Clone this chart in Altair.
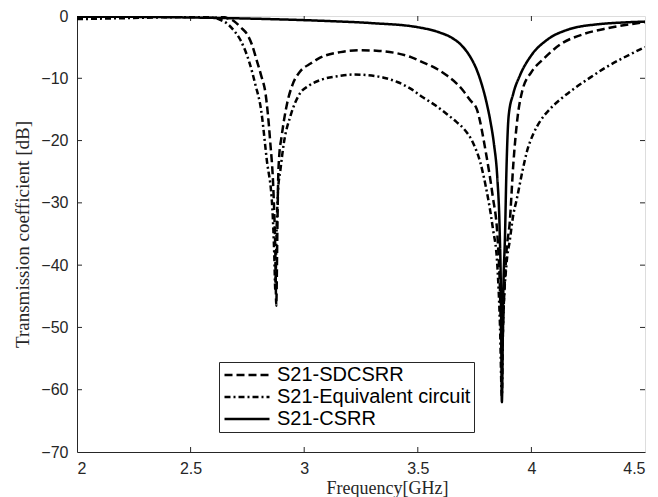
import altair as alt
import pandas as pd

# ---- data ----
sd_f = [2.0, 2.3, 2.5, 2.6, 2.65, 2.69, 2.72, 2.75, 2.77, 2.79, 2.81, 2.83, 2.85, 2.865, 2.873, 2.877,
        2.882, 2.885, 2.89, 2.90, 2.925, 2.95, 2.98, 3.03, 3.07, 3.16, 3.25, 3.33, 3.41, 3.47, 3.52,
        3.58, 3.63, 3.67, 3.70, 3.73, 3.76, 3.80, 3.83, 3.85, 3.86, 3.87, 3.88, 3.89, 3.905, 3.92,
        3.94, 3.96, 4.0, 4.05, 4.13, 4.23, 4.33, 4.42, 4.5]
sd_db = [0.1, 0.15, 0.2, 0.15, -0.2, -0.8, -1.8, -3.0, -4.6, -7.0, -9.5, -12.5, -20.0, -28.5, -38.0, -46.5,
         -34.0, -27.0, -22.5, -19.5, -14.0, -10.9, -9.0, -7.6, -6.7, -5.8, -5.5, -5.6, -6.0, -6.6, -7.4,
         -8.4, -9.6, -10.8, -12.0, -13.5, -15.0, -22.0, -29.0, -35.0, -42.0, -54.0, -45.0, -38.0, -33.0, -24.0,
         -16.0, -12.0, -9.0, -7.0, -4.5, -2.9, -2.0, -1.4, -1.0]

eq_f = [2.0, 2.2, 2.4, 2.55, 2.6, 2.63, 2.66, 2.69, 2.72, 2.76, 2.785, 2.81, 2.835, 2.86, 2.868, 2.873,
        2.878, 2.885, 2.895, 2.91, 2.94, 2.98, 3.02, 3.07, 3.16, 3.22, 3.28, 3.35, 3.41, 3.47, 3.52,
        3.58, 3.63, 3.67, 3.70, 3.745, 3.775, 3.80, 3.83, 3.85, 3.862, 3.87, 3.875, 3.89, 3.905, 3.92,
        3.935, 3.96, 3.98, 4.01, 4.04, 4.08, 4.13, 4.19, 4.25, 4.33, 4.40, 4.5]
eq_db = [-0.5, -0.35, -0.2, -0.15, -0.3, -0.6, -1.2, -2.3, -3.9, -7.6, -11.0, -15.0, -23.0, -31.0, -38.0, -44.0,
         -35.0, -28.0, -24.8, -20.5, -16.0, -12.5, -11.2, -10.3, -9.6, -9.4, -9.5, -9.9, -10.6, -11.7, -13.0,
         -14.4, -15.8, -17.0, -18.0, -20.5, -23.5, -27.5, -34.0, -40.0, -50.0, -61.0, -50.0, -40.0, -36.0, -32.0,
         -29.5, -25.0, -21.8, -18.8, -16.8, -15.0, -13.3, -11.6, -10.1, -8.2, -6.8, -5.0]

cs_f = [2.0, 2.3, 2.6, 2.9, 3.1, 3.3, 3.5, 3.6, 3.65, 3.70, 3.73, 3.76, 3.78, 3.80, 3.82, 3.835, 3.85,
        3.86, 3.866, 3.87, 3.876, 3.884, 3.89, 3.90, 3.92, 3.95, 4.0, 4.07, 4.16, 4.3, 4.4, 4.5]
cs_db = [-0.1, -0.15, -0.3, -0.55, -0.8, -1.15, -1.8, -2.7, -3.5, -5.0, -6.5, -8.7, -10.8, -13.5, -17.0, -20.5, -26.0,
         -34.0, -45.0, -62.0, -45.0, -35.0, -25.0, -16.0, -12.5, -9.5, -6.3, -3.8, -2.2, -1.3, -1.05, -0.9]

series_names = ["S21-SDCSRR", "S21-Equivalent circuit", "S21-CSRR"]
x_ticks = [2.0, 2.5, 3.0, 3.5, 4.0, 4.5]
y_ticks = [-70, -60, -50, -40, -30, -20, -10, 0]

rows = []
for name, fs, ds in zip(series_names, [sd_f, eq_f, cs_f], [sd_db, eq_db, cs_db]):
    for f, d in zip(fs, ds):
        rows.append({"series": name, "f": f, "db": d})
df = pd.DataFrame(rows)

W, H = 568, 436
TICK = 5
AX = "#262626"

xs = alt.Scale(domain=[2, 4.5], nice=False, zero=False)
ys = alt.Scale(domain=[-70, 0], nice=False, zero=False)

lines = alt.Chart(df).mark_line(strokeWidth=2.5, color="black", clip=True,
                                interpolate="monotone", strokeCap="butt").encode(
    x=alt.X("f:Q", scale=xs,
            axis=alt.Axis(values=x_ticks, ticks=False, grid=False, domainColor=AX,
                          labelFont="Liberation Sans", labelFontSize=16, labelColor=AX,
                          labelPadding=8,
                          labelExpr="datum.value == 2 || datum.value == 3 || datum.value == 4 ? format(datum.value, 'd') : format(datum.value, '.1f')",
                          title="Frequency[GHz]", titleFont="Liberation Serif",
                          titleFontSize=18, titleFontWeight="normal", titleColor=AX,
                          titleBaseline="alphabetic", titleY=41, titleX=310)),
    y=alt.Y("db:Q", scale=ys,
            axis=alt.Axis(values=y_ticks, ticks=False, grid=False, domainColor=AX,
                          labelFont="Liberation Sans", labelFontSize=16, labelColor=AX,
                          labelPadding=9,
                          title="Transmission coefficient [dB]", titleFont="Liberation Serif",
                          titleFontSize=19, titleFontWeight="normal", titleColor=AX,
                          titlePadding=8)),
    strokeDash=alt.StrokeDash("series:N",
                              scale=alt.Scale(domain=series_names,
                                              range=[[8, 4], [6, 3, 2, 3], [1, 0]]),
                              legend=alt.Legend(title=None, orient="none", legendX=142, legendY=346,
                                                symbolType="M-1,0H5", symbolSize=225,
                                                symbolStrokeWidth=2.5, symbolStrokeColor="black",
                                                symbolFillColor="transparent",
                                                labelFont="Liberation Sans", labelFontSize=20,
                                                labelColor="black", labelOffset=35, labelLimit=400,
                                                strokeColor=AX, fillColor="white", padding=3,
                                                rowPadding=2)),
)

xt = pd.DataFrame({"v": x_ticks[1:-1]})
yt = pd.DataFrame({"v": y_ticks[1:-1]})

xbot = alt.Chart(xt).mark_rule(color=AX, strokeWidth=1).encode(
    x=alt.X("v:Q", scale=xs), y=alt.value(H), y2=alt.value(H - TICK))
xtop = alt.Chart(xt).mark_rule(color=AX, strokeWidth=1).encode(
    x=alt.X("v:Q", scale=xs), y=alt.value(0), y2=alt.value(TICK))
yleft = alt.Chart(yt).mark_rule(color=AX, strokeWidth=1).encode(
    y=alt.Y("v:Q", scale=ys), x=alt.value(0), x2=alt.value(TICK))
yright = alt.Chart(yt).mark_rule(color=AX, strokeWidth=1).encode(
    y=alt.Y("v:Q", scale=ys), x=alt.value(W), x2=alt.value(W - TICK))

chart = alt.layer(xbot, xtop, yleft, yright, lines).properties(
    width=W, height=H,
    autosize=alt.AutoSizeParams(type="none"),
    padding={"left": 77, "top": 16, "right": 13, "bottom": 45},
).configure_view(stroke="#555555", strokeWidth=1).configure(background="white")

chart.save("out.html", embed_options={"renderer": "svg", "actions": False})
